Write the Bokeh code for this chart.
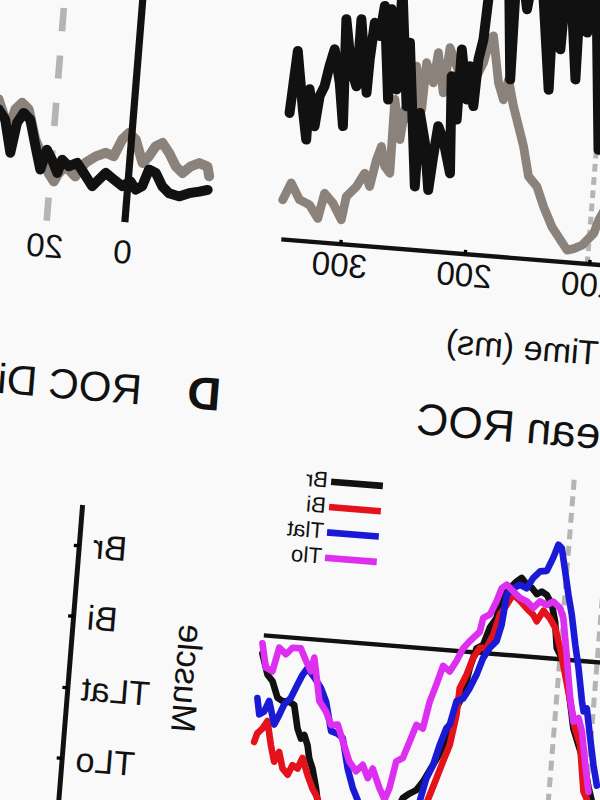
import math
from bokeh.plotting import figure
from bokeh.models import Range1d, LinearAxis, FixedTicker, Label, Legend, LegendItem
from bokeh.embed import file_html
from bokeh.resources import INLINE

FONT = "Liberation Sans"

# ---------------- data ----------------
# Panel A : firing rate (spikes/s) vs time (ms)
a_gray_t = [349.4, 343.7, 336.0, 327.7, 320.2, 316.4, 309.1, 301.4, 298.9, 291.5, 285.7, 280.9, 277.2,
            274.1, 270.2, 265.7, 266.4, 259.8, 257.8, 253.1, 251.2, 244.4, 243.4, 236.8, 234.7, 228.2,
            225.7, 219.2, 212.8, 207.7, 202.6, 198.1, 194.2, 191.8, 184.8, 179.8, 177.0, 171.4, 166.1,
            160.8, 154.9, 147.5, 141.0, 133.0, 125.4, 119.4, 114.2, 107.8, 104.1, 99.2, 96.1, 92.0]
a_gray_v = [9.9, 14.3, 10.3, 9.2, 6.0, 12.4, 10.1, 6.1, 12.0, 14.7, 18.2, 15.0, 21.8,
            25.2, 20.3, 18.7, 37.2, 27.3, 34.9, 32.5, 45.9, 35.2, 47.0, 42.1, 49.7, 39.8,
            51.2, 46.7, 42.7, 43.7, 44.6, 48.1, 54.1, 55.0, 43.4, 39.3, 44.4, 37.9, 33.0,
            28.1, 20.7, 18.3, 13.5, 8.6, 5.5, 3.1, 3.6, 4.6, 6.0, 7.8, 11.2, 14.0]
a_black_t = [349.5, 346.9, 339.1, 334.5, 335.0, 328.7, 326.6, 323.3, 320.6, 317.6, 311.4, 306.1, 310.2,
             303.0, 297.9, 298.2, 289.4, 289.0, 287.3, 282.5, 280.4, 271.8, 274.8, 265.7, 267.4, 256.6,
             258.0, 244.9, 245.5, 239.6, 234.0, 232.2, 230.1, 225.2, 217.7, 222.6, 215.8, 216.2, 209.0,
             208.6, 203.4, 202.3, 199.6, 196.8, 186.0, 175.7, 178.0, 166.8, 160.7, 144.4, 147.4, 137.6,
             136.7, 123.7, 126.1, 117.3, 115.4, 100.8, 95.0, 90.0]
a_black_v = [31.7, 47.3, 32.8, 25.4, 38.0, 28.9, 36.5, 39.1, 44.2, 48.5, 40.2, 29.5, 56.2,
             43.8, 39.7, 56.5, 38.3, 46.7, 55.9, 52.7, 60.3, 37.0, 59.6, 39.7, 65.0, 35.7,
             51.6, 15.9, 34.3, 26.9, 15.3, 23.7, 31.4, 28.1, 19.9, 44.1, 33.4, 51.0, 38.6,
             47.0, 37.1, 48.8, 53.9, 75.0, 80.0, 44.5, 80.0, 62.3, 80.0, 42.7, 80.0, 53.0,
             78.0, 45.8, 78.0, 57.7, 78.0, 28.7, 45.0, 70.0]
a_ticks = [100, 200, 300]
a_marker_t = [102.5]

# Panel B : firing rate vs time (ms)
b_gray_t = [34.8, 31.6, 30.3, 28.7, 26.9, 24.6, 22.5, 20.5, 19.0, 17.9, 16.3, 13.6, 11.3, 8.8, 6.3,
            4.2, 2.4, 0.8, -1.1, -3.3, -4.8, -6.3, -8.0, -9.9, -11.9, -13.7, -15.7, -17.8, -20.0, -20.6]
b_gray_v = [29.3, 21.9, 27.1, 28.9, 27.4, 20.0, 16.0, 11.9, 9.9, 12.1, 13.9, 11.6, 15.2, 17.0, 18.1,
            17.4, 21.7, 23.5, 22.0, 16.3, 18.1, 20.7, 21.7, 19.3, 16.1, 14.6, 16.4, 17.4, 16.7, 14.3]
b_black_t = [34.6, 32.7, 30.7, 29.6, 28.1, 26.3, 24.4, 22.7, 21.4, 19.9, 18.3, 17.3, 15.5, 13.4, 11.5,
             9.1, 7.5, 5.9, 3.7, 1.4, -0.6, -2.1, -3.7, -5.1, -6.9, -8.8, -10.7, -13.3, -15.8, -18.4, -20.5]
b_black_v = [26.8, 24.4, 16.2, 23.8, 26.4, 24.9, 18.3, 12.6, 17.7, 15.3, 12.1, 15.5, 14.0, 15.0, 12.6,
             9.5, 11.3, 13.1, 11.6, 10.1, 11.5, 9.5, 10.5, 14.8, 14.1, 10.9, 9.3, 8.7, 9.7, 10.3, 10.9]
b_ticks = [0, 20, 40]
b_onset_t = [0.0]
b_marker_t = [20.0]

# Panel C : mean ROC per muscle vs time (ms)
legend_names = ["Br", "Bi", "Tlat", "Tlo"]
roc_br_t = [336.5, 331.0, 326.6, 321.6, 317.4, 312.0, 307.8, 303.7, 300.3, 297.8, 294.6, 292.4, 289.1,
            285.1, 283.0, 270.0, 250.0, 230.0, 215.2, 210.2, 205.0, 200.2, 186.4, 181.8, 178.2, 173.8,
            170.2, 166.1, 161.0, 156.7, 152.0, 150.4, 148.6, 143.3, 138.3, 134.6, 130.1, 125.9, 121.4,
            117.7, 113.4, 108.8, 105.1, 102.1, 97.4, 94.6, 90.2, 83.7, 78.6, 73.5, 67.9, 64.0]
roc_br = [0.482, 0.461, 0.455, 0.439, 0.436, 0.436, 0.433, 0.410, 0.400, 0.404, 0.394, 0.381, 0.371,
          0.352, 0.339, 0.310, 0.300, 0.305, 0.349, 0.354, 0.358, 0.367, 0.402, 0.416, 0.443, 0.457,
          0.484, 0.504, 0.508, 0.526, 0.536, 0.553, 0.567, 0.567, 0.574, 0.578, 0.572, 0.569, 0.563,
          0.566, 0.563, 0.554, 0.537, 0.511, 0.501, 0.498, 0.472, 0.432, 0.416, 0.400, 0.375, 0.360]
roc_bi_t = [337.4, 335.4, 331.7, 328.1, 323.8, 320.2, 316.8, 313.1, 308.6, 305.3, 301.1, 297.8, 292.6,
            287.8, 284.6, 275.0, 255.0, 235.0, 215.0, 200.0, 194.0, 189.8, 185.5, 181.2, 177.8, 176.9,
            172.3, 168.2, 163.4, 158.1, 153.6, 149.5, 144.8, 140.2, 134.4, 128.6, 122.9, 119.8, 115.1,
            109.4, 104.7, 99.4, 93.7, 88.0, 82.3, 77.2, 71.6, 68.5]
roc_bi = [0.393, 0.402, 0.407, 0.415, 0.391, 0.375, 0.385, 0.369, 0.363, 0.373, 0.370, 0.381, 0.364,
          0.351, 0.345, 0.320, 0.300, 0.300, 0.310, 0.330, 0.354, 0.371, 0.389, 0.406, 0.436, 0.463,
          0.477, 0.494, 0.505, 0.505, 0.519, 0.540, 0.550, 0.561, 0.555, 0.548, 0.542, 0.536, 0.547,
          0.540, 0.531, 0.511, 0.485, 0.459, 0.432, 0.416, 0.370, 0.363]
roc_tlat_t = [337.6, 335.1, 331.4, 328.0, 322.5, 319.1, 315.8, 310.9, 306.4, 303.0, 299.5, 293.5, 287.5,
              282.6, 276.7, 271.4, 267.0, 261.1, 255.8, 249.4, 240.0, 230.0, 222.0, 214.0, 201.6, 197.8,
              193.3, 189.2, 185.0, 182.5, 178.6, 173.6, 168.9, 164.3, 160.2, 155.4, 150.5, 147.5, 145.4,
              140.6, 135.4, 129.9, 125.3, 120.3, 115.0, 110.6, 107.4, 104.5, 100.3, 96.2, 92.2, 87.6,
              83.5, 78.6, 76.7, 74.2, 69.7, 65.3, 61.3]
roc_tlat = [0.437, 0.421, 0.424, 0.435, 0.412, 0.422, 0.433, 0.440, 0.454, 0.464, 0.471, 0.462, 0.452,
            0.439, 0.410, 0.408, 0.404, 0.374, 0.355, 0.339, 0.325, 0.318, 0.322, 0.332, 0.347, 0.370,
            0.384, 0.405, 0.422, 0.426, 0.450, 0.453, 0.464, 0.478, 0.495, 0.506, 0.513, 0.530, 0.560,
            0.567, 0.571, 0.568, 0.579, 0.586, 0.587, 0.601, 0.614, 0.611, 0.588, 0.565, 0.545, 0.516,
            0.493, 0.460, 0.450, 0.453, 0.424, 0.397, 0.377]
roc_tlo_t = [337.1, 332.8, 327.3, 323.4, 317.6, 312.8, 306.1, 301.2, 296.6, 294.8, 288.0, 282.0, 277.1,
             271.8, 266.8, 260.2, 254.2, 249.3, 244.5, 241.1, 234.5, 229.7, 226.5, 222.8, 217.8, 213.4,
             209.1, 203.7, 200.0, 195.7, 191.6, 185.9, 181.2, 176.8, 171.8, 164.5, 162.7, 157.5, 153.0,
             149.9, 146.1, 140.4, 134.6, 129.0, 123.4, 118.4, 112.8, 107.8, 102.0, 98.7, 93.4, 88.2,
             84.1, 80.3, 76.7, 71.9, 67.6]
roc_tlo = [0.492, 0.468, 0.465, 0.489, 0.483, 0.490, 0.490, 0.478, 0.468, 0.482, 0.439, 0.429, 0.416,
           0.417, 0.401, 0.381, 0.372, 0.379, 0.366, 0.376, 0.357, 0.346, 0.358, 0.385, 0.389, 0.406,
           0.423, 0.420, 0.447, 0.465, 0.484, 0.479, 0.490, 0.503, 0.511, 0.521, 0.535, 0.539, 0.553,
           0.566, 0.570, 0.564, 0.558, 0.555, 0.549, 0.556, 0.553, 0.557, 0.551, 0.541, 0.502, 0.462,
           0.439, 0.443, 0.430, 0.397, 0.370]
chance_level = 0.5
chance_window = [55.0, 336.5]
c_marker_t = [99.0, 69.0]

# Panel D : muscle axis (index 0 = bottom)
muscle_order = ["TLo", "TLat", "Bi", "Br"]

# ---------------- figure ----------------
W, H = 600, 800
p = figure(width=W, height=H, output_backend="svg", toolbar_location=None,
           x_range=Range1d(-31.5, 631.5), y_range=Range1d(842.0, -42.0),
           x_axis_location=None, y_axis_location=None, min_border=0)
p.min_border_left = p.min_border_right = p.min_border_top = p.min_border_bottom = 0
p.xgrid.visible = False
p.ygrid.visible = False
p.outline_line_color = None
p.background_fill_color = "#f9f9f9"
p.border_fill_color = "#f9f9f9"

p.extra_x_ranges = {"tA": Range1d(58.0, 588.4),
                    "tB": Range1d(-133.28, 36.72),
                    "xD": Range1d(-538.9, 124.1)}
p.extra_y_ranges = {"yA": Range1d(-150.25, 70.75),
                    "yC": Range1d(0.295, 1.179),
                    "yD": Range1d(-0.927, 11.489)}

BLACK = "#111111"
GRAY = "#8c827c"
LIGHT = "#b4b4b4"

# Panel A
p.segment(x0=a_marker_t, y0=[0] * len(a_marker_t), x1=a_marker_t, y1=[75] * len(a_marker_t),
          x_range_name="tA", y_range_name="yA", line_color=LIGHT, line_width=4.5, line_dash="7 5")
p.line(a_gray_t, a_gray_v, x_range_name="tA", y_range_name="yA",
       line_color=GRAY, line_width=8, line_join="round", line_cap="round")
p.line(a_black_t, a_black_v, x_range_name="tA", y_range_name="yA",
       line_color=BLACK, line_width=9, line_join="round", line_cap="round")

axA = LinearAxis(x_range_name="tA", y_range_name="yA", fixed_location=0, bounds=(50, 348),
                 ticker=FixedTicker(ticks=a_ticks))
axA.axis_line_width = 4
axA.axis_line_color = BLACK
axA.major_tick_in = 4
axA.major_tick_out = 0
axA.major_tick_line_width = 3
axA.minor_tick_line_color = None
axA.major_label_text_font = FONT
axA.major_label_text_font_size = "30px"
axA.major_label_text_color = BLACK
axA.major_label_standoff = 9
p.add_layout(axA, "below")

# Panel B
p.segment(x0=b_marker_t, y0=[0] * len(b_marker_t), x1=b_marker_t, y1=[75] * len(b_marker_t),
          x_range_name="tB", y_range_name="yA", line_color=LIGHT, line_width=6, line_dash="21 22")
p.line(b_gray_t, b_gray_v, x_range_name="tB", y_range_name="yA",
       line_color=GRAY, line_width=9, line_join="round", line_cap="round")
p.line(b_black_t, b_black_v, x_range_name="tB", y_range_name="yA",
       line_color=BLACK, line_width=9, line_join="round", line_cap="round")
p.segment(x0=b_onset_t, y0=[1.2], x1=b_onset_t, y1=[75],
          x_range_name="tB", y_range_name="yA", line_color=BLACK, line_width=6.5)

axB = LinearAxis(x_range_name="tB", y_range_name="yA", fixed_location=0,
                 ticker=FixedTicker(ticks=b_ticks))
axB.axis_line_color = None
axB.major_tick_line_color = None
axB.minor_tick_line_color = None
axB.major_label_text_font = FONT
axB.major_label_text_font_size = "30px"
axB.major_label_text_color = BLACK
axB.major_label_standoff = 7
p.add_layout(axB, "below")

# Panel C
p.segment(x0=c_marker_t, y0=[0.68] * len(c_marker_t), x1=c_marker_t, y1=[0.2] * len(c_marker_t),
          x_range_name="tA", y_range_name="yC", line_color=LIGHT, line_width=4.5, line_dash="9 6")
p.line(chance_window, [chance_level, chance_level], x_range_name="tA", y_range_name="yC",
       line_color=BLACK, line_width=4)

series = [(roc_br_t, roc_br, "#111111"),
          (roc_bi_t, roc_bi, "#e3121b"),
          (roc_tlat_t, roc_tlat, "#1a1ad6"),
          (roc_tlo_t, roc_tlo, "#dd2ff0")]
items = []
for name, (tt, rr, col) in zip(legend_names, series):
    r = p.line(tt, rr, x_range_name="tA", y_range_name="yC", line_color=col,
               line_width=6, line_join="round", line_cap="round")
    items.append(LegendItem(label=name, renderers=[r]))

legend = Legend(items=items, location=(219.0, 249.0))
legend.padding = 0
legend.margin = 0
legend.spacing = 0
legend.glyph_width = 47
legend.glyph_height = 20
legend.label_height = 20
legend.label_standoff = 3
legend.border_line_color = None
legend.background_fill_alpha = 0
legend.label_text_font = FONT
legend.label_text_font_size = "20px"
legend.label_text_color = BLACK
p.add_layout(legend)

# Panel D
axD = LinearAxis(x_range_name="xD", y_range_name="yD", fixed_location=0, bounds=(-0.93, 3.57),
                 ticker=FixedTicker(ticks=list(range(len(muscle_order)))))
axD.major_label_overrides = {i: m for i, m in enumerate(muscle_order)}
axD.axis_line_width = 4.5
axD.axis_line_color = BLACK
axD.major_tick_in = 5
axD.major_tick_out = 0
axD.major_tick_line_width = 3
axD.minor_tick_line_color = None
axD.major_label_text_font = FONT
axD.major_label_text_font_size = "31px"
axD.major_label_text_color = BLACK
axD.major_label_standoff = 12
p.add_layout(axD, "left")

# Texts (page layout coordinates)
p.add_layout(Label(x=82.2, y=329.2, text="Time (ms)", text_align="center", text_baseline="middle",
                   text_font=FONT, text_font_size="31px", text_color=BLACK))
p.add_layout(Label(x=389.8, y=686.0, text="Muscle", angle=math.pi / 2, text_align="center",
                   text_baseline="middle", text_font=FONT, text_font_size="31px", text_color=BLACK))
p.add_layout(Label(x=181.6, y=408.6, text="Mean ROC", text_align="right", text_baseline="middle",
                   text_font=FONT, text_font_size="40px", text_color=BLACK))
p.add_layout(Label(x=458.0, y=402.3, text="ROC Difference", text_align="left", text_baseline="middle",
                   text_font=FONT, text_font_size="38px", text_color=BLACK))
p.add_layout(Label(x=395.6, y=400.6, text="D", text_align="center", text_baseline="middle",
                   text_font=FONT, text_font_size="42px", text_font_style="bold", text_color=BLACK))

# the reference is a mirrored, slightly rotated photograph of the figure:
# transform only the inner canvas so the figure's own size is not re-measured
p.stylesheets = [
    ":host { overflow: hidden; }",
    ":host > div { transform: rotate(4.6deg) scale(-1.105, 1.105); transform-origin: 300px 400px; }",
]

open("out.html", "w").write(file_html(p, INLINE))
